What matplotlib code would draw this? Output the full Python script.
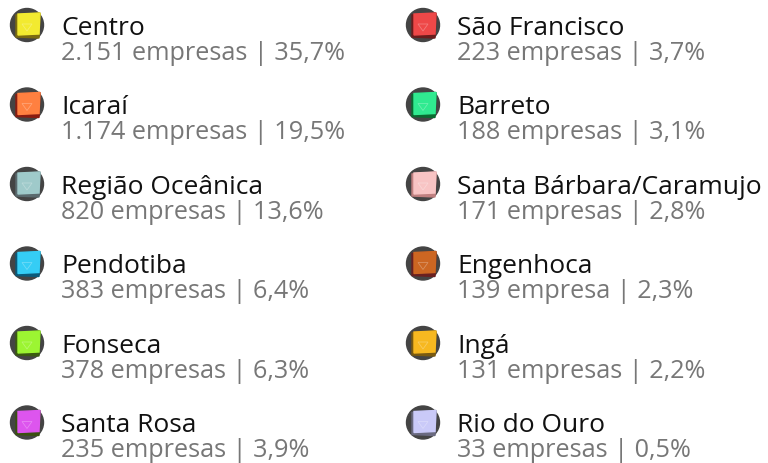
import matplotlib.pyplot as plt
from matplotlib.patches import Circle, Polygon
from matplotlib.colors import to_rgb

names = ['Centro', 'Icaraí', 'Região Oceânica', 'Pendotiba', 'Fonseca', 'Santa Rosa',
         'São Francisco', 'Barreto', 'Santa Bárbara/Caramujo', 'Engenhoca', 'Ingá', 'Rio do Ouro']
counts = ['2.151', '1.174', '820', '383', '378', '235',
          '223', '188', '171', '139', '131', '33']
units = ['empresas'] * 9 + ['empresa'] + ['empresas'] * 2
pcts = ['35,7%', '19,5%', '13,6%', '6,4%', '6,3%', '3,9%',
        '3,7%', '3,1%', '2,8%', '2,3%', '2,2%', '0,5%']
colors = ['#f2ea30', '#ff8040', '#9fcaca', '#35cdf5', '#9cf532', '#dd55ee',
          '#ee4848', '#30ea90', '#f8c4c4', '#cc6622', '#f7b820', '#cacaf8']
frames = ['#7a6a10', '#8a1c10', '#5a6a6e', '#0a5a7a', '#3a5a10', '#3a5010',
          '#6a1c1c', '#0a6a30', '#c08080', '#6a2020', '#7a5a10', '#6a6a80']

plt.rcParams['font.family'] = ['Open Sans', 'DejaVu Sans']

fig = plt.figure(figsize=(7.68, 4.64), dpi=100)
ax = fig.add_axes([0, 0, 1, 1])
ax.set_xlim(0, 768)
ax.set_ylim(464, 0)
ax.axis('off')

col_x = [27, 423]
row_step = 79.5

for i, name in enumerate(names):
    cx = col_x[i // 6]
    cy = 26 + row_step * (i % 6)
    ax.add_patch(Circle((cx, cy), 16.5, color='#444444', zorder=1))
    # dark frame of the square
    ax.add_patch(Polygon([(cx - 11, cy - 10), (cx + 13, cy - 12), (cx + 12, cy + 13), (cx - 11, cy + 12)],
                         closed=True, color=frames[i], zorder=2))
    # light fill
    ax.add_patch(Polygon([(cx - 9, cy - 11), (cx + 13, cy - 12), (cx + 12, cy + 9), (cx - 9, cy + 10)],
                         closed=True, color=colors[i], zorder=3))
    light = tuple(min(1, c * 0.6 + 0.4) for c in to_rgb(colors[i]))
    ax.add_patch(Polygon([(cx - 5, cy - 1), (cx + 5, cy - 1), (cx, cy + 6)], closed=True,
                         fill=False, edgecolor=light, lw=0.6, alpha=0.7, zorder=4))
    ax.text(cx + 34, cy + 9, name, fontsize=19, color='#111111', va='baseline', ha='left')
    ax.text(cx + 34, cy + 34, f'{counts[i]} {units[i]} | {pcts[i]}', fontsize=18.2,
            color='#777777', va='baseline', ha='left')

fig.savefig('out.png', dpi=100)
